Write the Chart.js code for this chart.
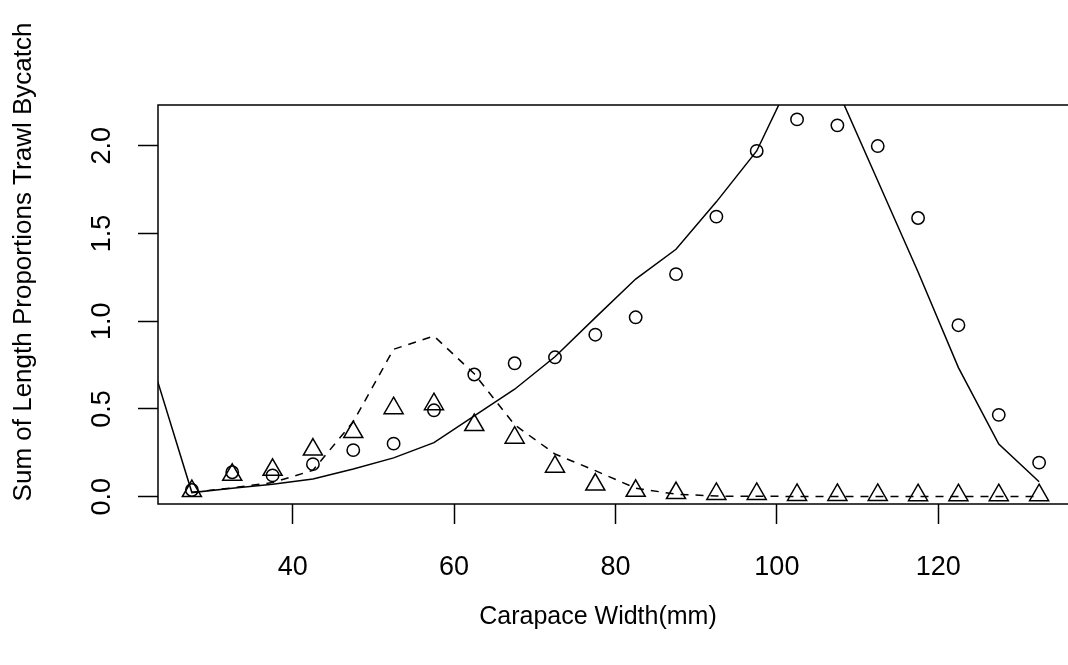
<!DOCTYPE html>
<html>
<head>
<meta charset="utf-8">
<script src="https://cdn.jsdelivr.net/npm/chart.js@4.4.0/dist/chart.umd.min.js"></script>
<style>
  html, body { margin: 0; padding: 0; background: #fff; overflow: hidden; }
  #wrap { width: 1100px; height: 665px; position: relative; }
</style>
</head>
<body>
<div id="wrap"><canvas id="lineChart"></canvas></div>
<script>
// carapace width classes (mm)
var widths = [27.5, 32.5, 37.5, 42.5, 47.5, 52.5, 57.5, 62.5, 67.5, 72.5, 77.5,
              82.5, 87.5, 92.5, 97.5, 102.5, 107.5, 112.5, 117.5, 122.5, 127.5, 132.5];
// predicted line for the circles starts one class earlier
var predWidths = [22.5, 27.5, 32.5, 37.5, 42.5, 47.5, 52.5, 57.5, 62.5, 67.5, 72.5, 77.5,
                  82.5, 87.5, 92.5, 97.5, 102.5, 107.5, 112.5, 117.5, 122.5, 127.5, 132.5];

var obsCircles = [0.038, 0.139, 0.121, 0.185, 0.265, 0.302, 0.492, 0.696, 0.760, 0.794, 0.923,
                  1.022, 1.268, 1.596, 1.970, 2.150, 2.116, 1.998, 1.588, 0.977, 0.466, 0.194];
var obsTriangles = [0.032, 0.124, 0.153, 0.268, 0.368, 0.504, 0.527, 0.408, 0.336, 0.171, 0.069,
                    0.033, 0.020, 0.015, 0.015, 0.010, 0.010, 0.010, 0.008, 0.008, 0.008, 0.008];
var predSolid = [0.77, 0.023, 0.048, 0.070, 0.101, 0.157, 0.221, 0.308, 0.460, 0.612, 0.797, 1.02,
                 1.24, 1.41, 1.68, 1.97, 2.45, 2.32, 1.80, 1.28, 0.735, 0.300, 0.085];
var predDashed = [0.025, 0.050, 0.080, 0.150, 0.427, 0.840, 0.915, 0.700, 0.409, 0.243, 0.148,
                  0.048, 0.014, 0.003, 0.002, 0.001, 0.001, 0.001, 0.001, 0.001, 0.001, 0.001];

var xTicks = [40, 60, 80, 100, 120];
var yTicks = [0, 0.5, 1.0, 1.5, 2.0];
var xTitle = "Carapace Width(mm)";
var yTitle = "Sum of Length Proportions Trawl Bycatch";

function pairs(xs, ys) {
  var out = [];
  for (var i in xs) out.push({x: xs[i], y: ys[i]});
  return out;
}

var FONT = "'Liberation Sans', Arial, sans-serif";

// box around the plot region (right side runs off the picture) and the two axis titles
var frame = {
  id: 'frame',
  afterDraw: function(chart) {
    var a = chart.chartArea, ctx = chart.ctx;
    ctx.save();
    ctx.strokeStyle = '#000';
    ctx.lineWidth = 1.5;
    ctx.beginPath();
    ctx.moveTo(a.right + 5, a.top);
    ctx.lineTo(a.left, a.top);
    ctx.lineTo(a.left, a.bottom);
    ctx.lineTo(a.right + 5, a.bottom);
    ctx.stroke();
    ctx.fillStyle = '#000';
    ctx.textAlign = 'center';
    ctx.textBaseline = 'middle';
    ctx.font = '25px ' + FONT;
    ctx.fillText(xTitle, a.left + 440, a.bottom + 113);
    ctx.font = '26px ' + FONT;
    ctx.translate(24, a.top + 157);
    ctx.rotate(-Math.PI / 2);
    ctx.fillText(yTitle, 0, 0);
    ctx.restore();
  }
};

var ctx = document.getElementById('lineChart');
var chart = new Chart(ctx, {
  type: 'scatter',
  data: {
    datasets: [
      {
        label: 'predicted 1',
        data: pairs(predWidths, predSolid),
        showLine: true,
        borderColor: '#000',
        borderWidth: 1.5,
        pointRadius: 0,
        fill: false
      },
      {
        label: 'predicted 2',
        data: pairs(widths, predDashed),
        showLine: true,
        borderColor: '#000',
        borderWidth: 1.5,
        borderDash: [8, 7],
        pointRadius: 0,
        fill: false
      },
      {
        label: 'observed 1',
        data: pairs(widths, obsCircles),
        pointStyle: 'circle',
        pointRadius: 6.2,
        borderColor: '#000',
        backgroundColor: 'rgba(0,0,0,0)',
        pointBorderWidth: 1.5
      },
      {
        label: 'observed 2',
        data: pairs(widths, obsTriangles),
        pointStyle: 'triangle',
        pointRadius: 11,
        borderColor: '#000',
        backgroundColor: 'rgba(0,0,0,0)',
        pointBorderWidth: 1.5
      }
    ]
  },
  options: {
    responsive: true,
    maintainAspectRatio: false,
    animation: false,
    events: [],
    layout: { padding: { top: 105, right: 27, left: 0, bottom: 0 } },
    plugins: { legend: { display: false }, tooltip: { enabled: false } },
    scales: {
      x: {
        type: 'linear',
        min: 23.3,
        max: 136.7,
        afterBuildTicks: function(scale) {
          scale.ticks = xTicks.map(function(v) { return {value: v}; });
        },
        afterFit: function(scale) { scale.height = 161; },
        border: { display: false },
        grid: { drawOnChartArea: false, drawTicks: true, tickLength: 20, color: '#000', tickWidth: 1.5 },
        ticks: { color: '#000', padding: 27, maxRotation: 0, font: { family: FONT, size: 27 } }
      },
      y: {
        type: 'linear',
        min: -0.042,
        max: 2.232,
        afterBuildTicks: function(scale) {
          scale.ticks = yTicks.map(function(v) { return {value: v}; });
        },
        afterFit: function(scale) { scale.width = 158; },
        border: { display: false },
        grid: { drawOnChartArea: false, drawTicks: true, tickLength: 20, color: '#000', tickWidth: 1.5 },
        ticks: {
          color: '#000',
          padding: 17,
          minRotation: 90,
          maxRotation: 90,
          crossAlign: 'center',
          font: { family: FONT, size: 27 },
          callback: function(v) { return v.toFixed(1); }
        }
      }
    }
  },
  plugins: [frame]
});
</script>
</body>
</html>
